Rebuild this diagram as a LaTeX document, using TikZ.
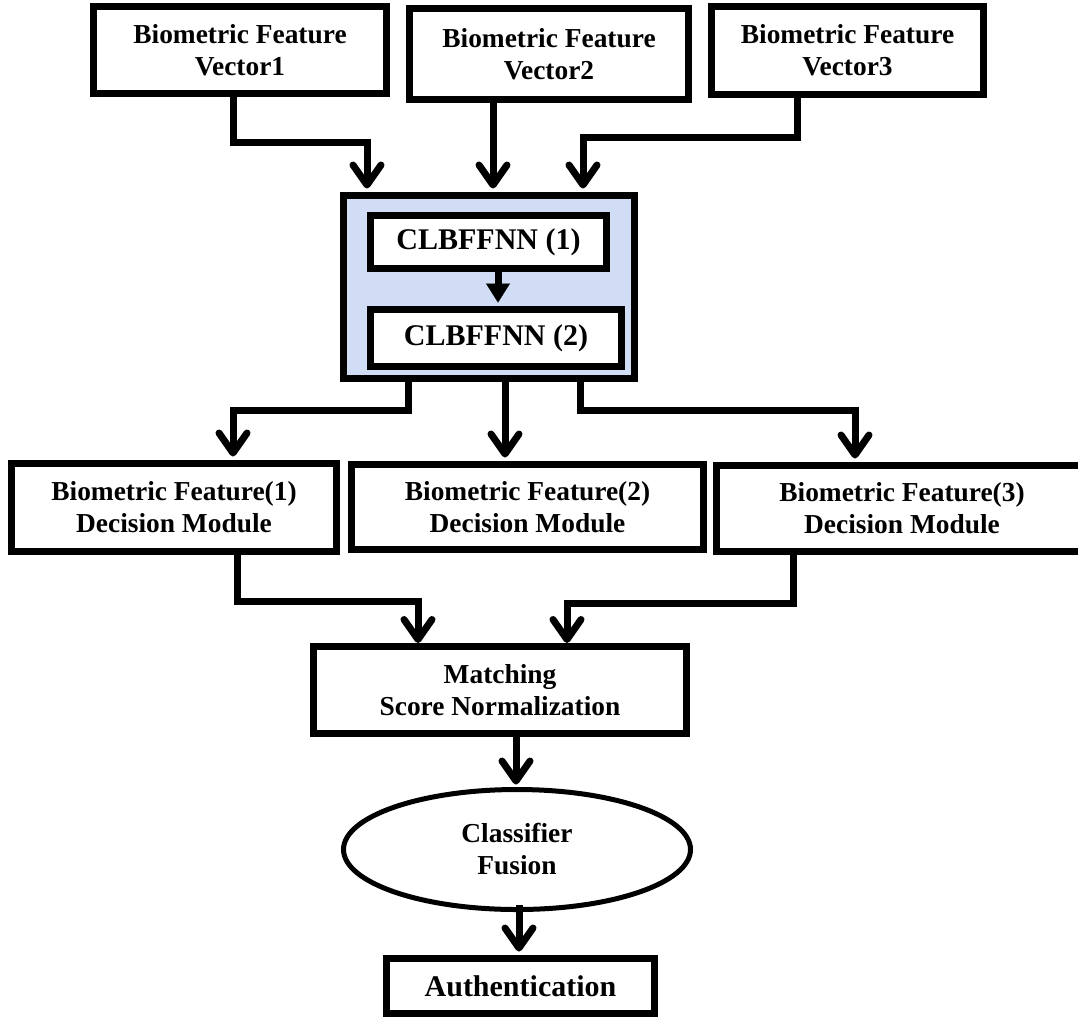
\documentclass[tikz,border=0pt]{standalone}
\usepackage{fontspec}
\setmainfont{Liberation Serif}
\usetikzlibrary{arrows.meta,shapes.geometric}

\definecolor{panelblue}{RGB}{208,221,244}

\tikzset{
  lbl/.style={font=\fontsize{27.4}{32}\selectfont\bfseries, align=center},
  lblbig/.style={font=\fontsize{30}{34}\selectfont\bfseries, align=center},
  blockbox/.style={draw=black, line width=7pt, fill=white, inner sep=0pt},
  roundbox/.style={draw=black, line width=5pt, fill=white, ellipse, inner sep=0pt},
  conn/.style={draw=black, line width=7pt,
    -{Straight Barb[length=20pt,width=28pt,round]}},
  solidconn/.style={draw=black, line width=7pt,
    -{Triangle[length=19pt,width=24pt,line width=0.1pt]}}
}

\begin{document}
\begin{tikzpicture}[x=1pt,y=-1pt]
  \useasboundingbox (0,0) rectangle (1078,1018);
  \fill[white] (0,0) rectangle (1078,1018);
  \clip (0,0) rectangle (1078,1018);

  % input feature vectors
  \node[blockbox, lbl, minimum width=293pt, minimum height=87pt] (v1) at (240,50)
    {Biometric Feature\\Vector1};
  \node[blockbox, lbl, minimum width=279pt, minimum height=91pt] (v2) at (549,54)
    {Biometric Feature\\Vector2};
  \node[blockbox, lbl, minimum width=272pt, minimum height=88pt] (v3) at (847.5,50.5)
    {Biometric Feature\\Vector3};

  % network panel with its two stages
  \node[draw=black, line width=7pt, fill=panelblue, inner sep=0pt,
        minimum width=291pt, minimum height=183pt] (cl) at (489,287) {};
  \node[blockbox, lblbig, minimum width=236pt, minimum height=53pt] (c1) at (488.5,242)
    {CLBFFNN (1)};
  \node[blockbox, lblbig, minimum width=251pt, minimum height=57pt] (c2) at (496,338)
    {CLBFFNN (2)};

  % decision modules
  \node[blockbox, lbl, minimum width=325pt, minimum height=88pt] (d1) at (174,507.5)
    {Biometric Feature(1)\\Decision Module};
  \node[blockbox, lbl, minimum width=352pt, minimum height=85pt] (d2) at (527.5,507)
    {Biometric Feature(2)\\Decision Module};
  \node[blockbox, lbl, minimum width=371pt, minimum height=86pt] (d3) at (902,508.5)
    {Biometric Feature(3)\\Decision Module};

  % score normalisation, fusion, authentication
  \node[blockbox, lbl, minimum width=373pt, minimum height=87pt] (match) at (500,690)
    {Matching\\Score Normalization};
  \node[roundbox, lbl, minimum width=347pt, minimum height=120pt] (fus) at (517,849.5)
    {Classifier\\Fusion};
  \node[blockbox, lblbig, minimum width=268pt, minimum height=55pt] (auth) at (520.5,986)
    {Authentication};

  % vectors into the network panel
  \draw[conn] ([xshift=-7pt]v1.south) -- ++(0,45.5)
    -| ([xshift=-122pt,yshift=3.5pt]cl.north);
  \draw[conn] ([xshift=-56pt]v2.south) -- ([xshift=4pt,yshift=3.5pt]cl.north);
  \draw[conn] ([xshift=-50.5pt]v3.south) -- ++(0,39.5)
    -| ([xshift=94pt,yshift=3.5pt]cl.north);

  % stage 1 to stage 2
  \draw[solidconn] ([xshift=9.5pt]c1.south) -- ([xshift=2pt,yshift=3.5pt]c2.north);

  % panel to decision modules
  \draw[conn] ([xshift=-81pt]cl.south) -- ++(0,28.5)
    -| ([xshift=59pt,yshift=3.5pt]d1.north);
  \draw[conn] ([xshift=16pt]cl.south) -- ([xshift=-22.5pt,yshift=3.5pt]d2.north);
  \draw[conn] ([xshift=91pt]cl.south) -- ++(0,28.5)
    -| ([xshift=-47pt,yshift=3.5pt]d3.north);

  % decision modules to normalisation
  \draw[conn] ([xshift=63pt]d1.south) -- ++(0,46.5)
    -| ([xshift=-82pt]match.north);
  \draw[conn] ([xshift=-109pt]d3.south) -- ++(0,48.5)
    -| ([xshift=67pt]match.north);

  % down to the result
  \draw[conn] ([xshift=16pt]match.south) -- ([xshift=-1pt,yshift=2.5pt]fus.north);
  \draw[conn] ([xshift=2pt,yshift=7.5pt]fus.south) -- ([xshift=-1.5pt,yshift=3.5pt]auth.north);
\end{tikzpicture}
\end{document}
